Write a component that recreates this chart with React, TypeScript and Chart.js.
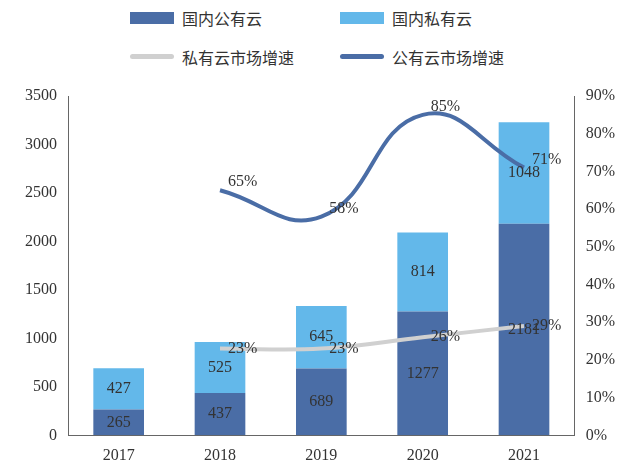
import React, { useEffect, useRef } from 'react';
import Chart from 'chart.js/auto';

const years = ['2017', '2018', '2019', '2020', '2021'];
const publicCloud = [265, 437, 689, 1277, 2181];
const privateCloud = [427, 525, 645, 814, 1048];
const privateGrowth = [null, 23, 23, 26, 29];
const publicGrowth = [null, 65, 58, 85, 71];

const FONT = '"Liberation Serif", "Times New Roman", serif';
const PUBLIC_COLOR = '#4a6da6';
const PRIVATE_COLOR = '#63b8ea';
const GRAY = '#d0d0d0';

// draws the numbers on bars and next to line points
const labelPlugin = {
  id: 'labels',
  afterDatasetsDraw(chart: any) {
    const ctx = chart.ctx;
    ctx.save();
    ctx.font = `16px ${FONT}`;
    ctx.fillStyle = '#333';
    chart.data.datasets.forEach((ds: any, i: number) => {
      const meta = chart.getDatasetMeta(i);
      meta.data.forEach((el: any, j: number) => {
        const v = ds.data[j];
        if (v == null) return;
        if (ds.type === 'line') {
          ctx.textAlign = 'left';
          ctx.textBaseline = 'middle';
          ctx.fillText(v + '%', el.x + 8, el.y - (i === 3 ? 8 : 0));
        } else {
          ctx.textAlign = 'center';
          ctx.textBaseline = 'middle';
          ctx.fillText(String(v), el.x, (el.y + el.base) / 2);
        }
      });
    });
    ctx.restore();
  },
};

const Swatch = ({ color, line }: { color: string; line?: boolean }) => (
  <span style={{ display: 'inline-block', width: 44, height: line ? 5 : 12, background: color, marginRight: 8, verticalAlign: 'middle', borderRadius: line ? 3 : 0 }} />
);

export default function App() {
  const ref = useRef<HTMLCanvasElement | null>(null);

  useEffect(() => {
    if (!ref.current) return;
    const tickFont = { family: FONT, size: 16 };
    const chart = new Chart(ref.current, {
      type: 'bar',
      data: {
        labels: years,
        datasets: [
          { type: 'bar', label: '国内公有云', data: publicCloud, backgroundColor: PUBLIC_COLOR, stack: 's', yAxisID: 'y', barPercentage: 0.5, categoryPercentage: 1, order: 2 },
          { type: 'bar', label: '国内私有云', data: privateCloud, backgroundColor: PRIVATE_COLOR, stack: 's', yAxisID: 'y', barPercentage: 0.5, categoryPercentage: 1, order: 2 },
          { type: 'line', label: '私有云市场增速', data: privateGrowth, borderColor: GRAY, borderWidth: 4, pointRadius: 0, tension: 0.4, yAxisID: 'y1', order: 1 },
          { type: 'line', label: '公有云市场增速', data: publicGrowth, borderColor: PUBLIC_COLOR, borderWidth: 4, pointRadius: 0, tension: 0.45, yAxisID: 'y1', order: 1 },
        ] as any,
      },
      options: {
        animation: false,
        responsive: true,
        maintainAspectRatio: false,
        layout: { padding: { top: 20, right: 14, left: 14, bottom: 0 } },
        plugins: { legend: { display: false }, tooltip: { enabled: false } },
        scales: {
          x: {
            stacked: true,
            grid: { display: false },
            border: { color: '#666' },
            ticks: { color: '#333', font: tickFont },
          },
          y: {
            stacked: true,
            min: 0,
            max: 3500,
            ticks: { stepSize: 500, color: '#333', font: tickFont, callback: (v: any) => String(v) },
            grid: { display: false },
            border: { color: '#666' },
          },
          y1: {
            position: 'right',
            min: 0,
            max: 90,
            ticks: { stepSize: 10, color: '#333', font: tickFont, callback: (v: any) => v + '%' },
            grid: { display: false },
            border: { color: '#666' },
          },
        },
      },
      plugins: [labelPlugin],
    });
    return () => chart.destroy();
  }, []);

  const item = { display: 'inline-flex', alignItems: 'center', fontSize: 16, color: '#333', width: 210 } as React.CSSProperties;

  return (
    <div style={{ width: 624, height: 460, fontFamily: '"Noto Sans CJK SC", sans-serif', display: 'flex', flexDirection: 'column' }}>
      <div style={{ paddingLeft: 122, lineHeight: '26px', marginTop: -4 }}>
        <div><span style={item}><Swatch color={PUBLIC_COLOR} />国内公有云</span><span style={item}><Swatch color={PRIVATE_COLOR} />国内私有云</span></div>
        <div style={{ marginTop: 8 }}><span style={item}><Swatch color={GRAY} line />私有云市场增速</span><span style={item}><Swatch color={PUBLIC_COLOR} line />公有云市场增速</span></div>
      </div>
      <div style={{ flex: 1, position: 'relative', marginTop: 6 }}>
        <canvas ref={ref} />
      </div>
    </div>
  );
}
